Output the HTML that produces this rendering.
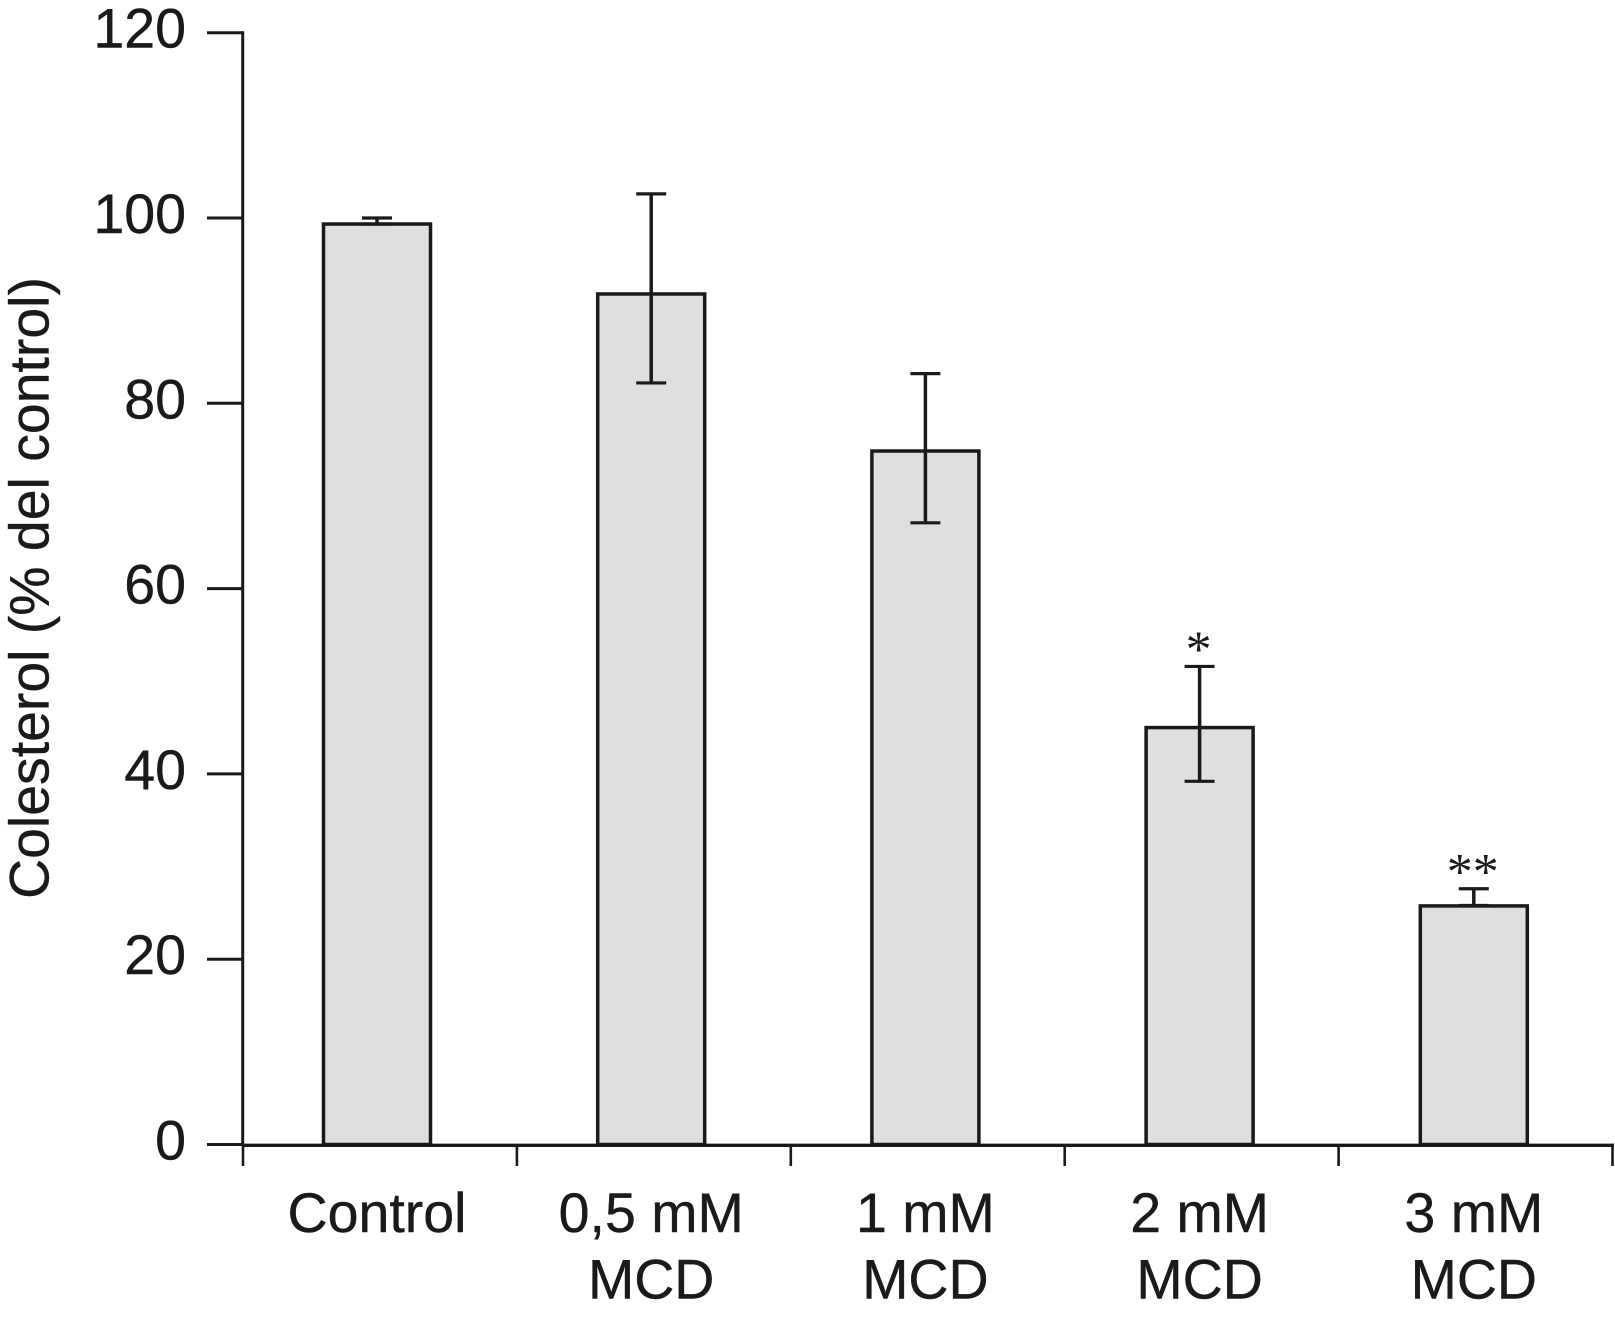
<!DOCTYPE html>
<html lang="es">
<head>
<meta charset="utf-8">
<title>Colesterol (% del control)</title>
<style>
  html, body { margin: 0; padding: 0; background: #fff; }
  body { width: 1615px; height: 1317px; overflow: hidden; }
  svg { display: block; }
  text { font-family: "Liberation Sans", Arial, sans-serif; fill: #1a1a1a; stroke: #1a1a1a; stroke-width: 0.4px; }
</style>
</head>
<body>
<svg id="chart" xmlns="http://www.w3.org/2000/svg" width="1615" height="1317" viewBox="0 0 1615 1317">
  <text transform="translate(48.5 588) rotate(-90)" text-anchor="middle" font-size="55.4">Colesterol (% del control)</text>
</svg>
<script>
var categoryLine1 = ["Control", "0,5 mM", "1 mM", "2 mM", "3 mM"];
var categoryLine2 = ["", "MCD", "MCD", "MCD", "MCD"];
var values = [99.35, 91.8, 74.85, 45, 25.75];
var errorUpper = [100, 102.6, 83.2, 51.6, 27.6];
var errorLower = [99.35, 82.2, 67.1, 39.2, 25.8];
var significance = ["", "", "", "*", "**"];
var yTicks = [0, 20, 40, 60, 80, 100, 120];
var yTickLabels = ["0", "20", "40", "60", "80", "100", "120"];

var svg = document.getElementById('chart');
var NS = 'http://www.w3.org/2000/svg';
var INK = '#1a1a1a';

function yScale(v) { return 1144.5 - v * 9.265; }
function xCenter(i) { return 377 + i * 274.2; }
function xBoundary(i) { return 243 + i * 273.9; }

function make(tag, attrs) {
  var el = document.createElementNS(NS, tag);
  for (var k in attrs) { el.setAttribute(k, attrs[k]); }
  svg.appendChild(el);
  return el;
}
function line(x1, y1, x2, y2, w) {
  return make('line', { x1: x1, y1: y1, x2: x2, y2: y2, stroke: INK, 'stroke-width': w });
}

// bars and error bars
values.forEach(function (v, i) {
  var cx = xCenter(i);
  var top = yScale(v);
  var bar = make('rect', { x: cx - 53.5, y: top, width: 107, height: yScale(0) - top, fill: '#dfdfdf', stroke: INK, 'stroke-width': 3.5 });
  
  

  var stem = line(cx, yScale(errorUpper[i]), cx, yScale(errorLower[i]), 3.5);
  
  

  var capTop = line(cx - 15, yScale(errorUpper[i]), cx + 15, yScale(errorUpper[i]), 3.2);
  
  

  var capLow = line(cx - 15, yScale(errorLower[i]), cx + 15, yScale(errorLower[i]), 3.2);
  
  

  if (significance[i]) {
    var star = make('text', { x: cx - 1, y: yScale(errorUpper[i]), 'text-anchor': 'middle', 'font-size': 52 });
    star.style.fontFamily = '"Liberation Serif", serif';
    star.style.strokeWidth = '0';
    star.textContent = significance[i];
    
    
  }
});

// y axis
var yAxis = line(242.7, yScale(120) - 1.4, 242.7, 1146, 3);



yTicks.forEach(function (t, i) {
  var tick = line(207, yScale(t), 243, yScale(t), 3);
  
  

  var label = make('text', { x: 186, y: yScale(t) + 15, 'text-anchor': 'end', 'font-size': 55.5 });
  label.textContent = yTickLabels[i];
  
  
});

// x axis
var xAxis = line(243, 1145.3, 1614, 1145.3, 3.4);



for (var b = 0; b <= categoryLine1.length; b++) {
  var xTick = line(xBoundary(b), 1146, xBoundary(b), 1166, 2.6);
  
  
}

categoryLine1.forEach(function (c, i) {
  var l1 = make('text', { x: xCenter(i), y: 1232, 'text-anchor': 'middle', 'font-size': 55.5 });
  l1.textContent = c;
  
  

  if (categoryLine2[i]) {
    var l2 = make('text', { x: xCenter(i), y: 1298.5, 'text-anchor': 'middle', 'font-size': 55.5 });
    l2.textContent = categoryLine2[i];
    
    
  }
});
</script>
</body>
</html>
